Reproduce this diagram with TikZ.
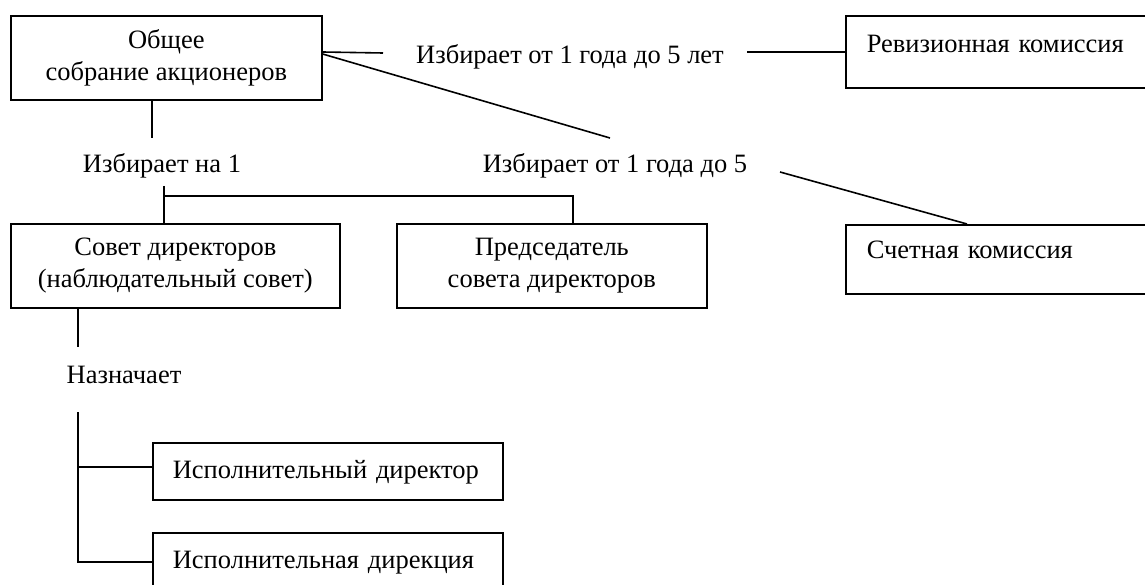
\documentclass[tikz,border=0pt]{standalone}
\usepackage{fontspec}
\setmainfont{Liberation Serif}
\usetikzlibrary{calc}
\begin{document}
\begin{tikzpicture}[x=1pt,y=-1pt,
  box/.style={draw, line width=1.6pt, inner sep=0pt, anchor=north west, align=center},
  lbox/.style={draw, line width=1.6pt, inner xsep=21pt, inner ysep=0pt, anchor=north west, align=left},
  lbl/.style={inner sep=0pt, anchor=base},
  conn/.style={line width=1.6pt}]
\fontsize{26.5}{32}\selectfont
\useasboundingbox[fill=white] (0,0) rectangle (1145,585);
% boxes
\node[box, minimum width=311pt, minimum height=84pt] (gsm) at (10,15) {Общее\\собрание акционеров};
\node[lbox, text width=275pt, text height=37pt, text depth=35pt] (rev) at (845,15) {Ревизионная комиссия};
\node[lbox, text width=275pt, text height=34pt, text depth=35pt] (cnt) at (845,224) {Счетная комиссия};
\node[box, minimum width=329pt, minimum height=84pt] (sov) at (10,223) {Совет директоров\\(наблюдательный совет)};
\node[box, minimum width=310pt, minimum height=84pt] (pred) at (396,223) {Председатель\\совета директоров};
\node[lbox, text width=310pt, inner xsep=20pt, text height=36pt, text depth=21pt] (dir1) at (152,442) {Исполнительный директор};
\node[lbox, text width=310pt, inner xsep=20pt, text height=36pt, text depth=22pt] (dir2) at (152,532) {Исполнительная дирекция};
% labels
\node[lbl] (l1) at (570,64) {Избирает от 1 года до 5 лет};
\node[lbl] (l2) at (615,173) {Избирает от 1 года до 5};
\node[lbl] (l3) at (162,173) {Избирает на 1};
\node[lbl] (l4) at (124,383) {Назначает};
% free ends
\coordinate (c1) at (383,53);
\coordinate (c2) at (610,138);
\coordinate (c3) at (780,172);
\coordinate (c4) at (747,52);
\coordinate (c5) at (152,138);
\coordinate (c6) at (164,186);
\coordinate (j) at (164,196);
\coordinate (c7) at (78,347);
\coordinate (c8) at (78,412);
\coordinate (d1) at ($(dir1.west)+(0,-4.5)$);
% connectors
\draw[conn] ($(gsm.north east)+(0,37)$) -- (c1);
\draw[conn] ($(gsm.north east)+(0,39)$) -- (c2);
\draw[conn] (c3) -- ($(cnt.north west)+(122,0)$);
\draw[conn] (c4) -- (rev.west |- c4);
\draw[conn] (gsm.south -| c5) -- (c5);
\draw[conn] (c6) -- (sov.north -| c6);
\draw[conn] (j) -| ($(pred.north west)+(177,0)$);
\draw[conn] (sov.south -| c7) -- (c7);
\draw[conn] (c8) |- (dir2.west);
\draw[conn] (c8 |- d1) -- (d1);
\end{tikzpicture}
\end{document}
